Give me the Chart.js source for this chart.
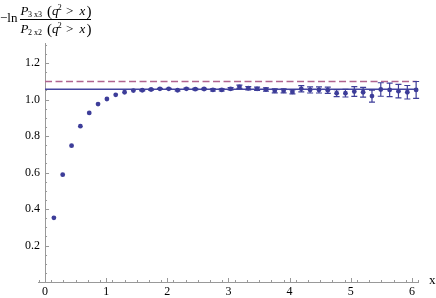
<!DOCTYPE html>
<html>
<head>
<meta charset="utf-8">
<script src="https://cdn.jsdelivr.net/npm/chart.js@4.4.0/dist/chart.umd.min.js"></script>
<style>
  body { margin: 0; background: #fff; }
  #c { display: block; }
</style>
</head>
<body>
<canvas id="c" width="436" height="298"></canvas>
<script>
// dữ liệu
const xValues = [0.145, 0.289, 0.434, 0.578, 0.723, 0.867, 1.012, 1.156, 1.301, 1.445,
                 1.590, 1.734, 1.879, 2.023, 2.168, 2.312, 2.457, 2.601, 2.746, 2.890,
                 3.035, 3.179, 3.324, 3.468, 3.613, 3.757, 3.902, 4.046, 4.191, 4.335,
                 4.480, 4.624, 4.769, 4.913, 5.058, 5.202, 5.347, 5.491, 5.636, 5.780,
                 5.925, 6.069];
const yValues = [0.352, 0.588, 0.747, 0.854, 0.927, 0.975, 1.003, 1.026, 1.040, 1.049,
                 1.051, 1.055, 1.059, 1.059, 1.051, 1.059, 1.057, 1.058, 1.053, 1.053,
                 1.059, 1.070, 1.062, 1.059, 1.055, 1.048, 1.048, 1.042, 1.059, 1.053,
                 1.053, 1.051, 1.035, 1.035, 1.044, 1.040, 1.019, 1.055, 1.053, 1.046,
                 1.040, 1.053];
const yErrors = [0, 0, 0, 0, 0, 0, 0, 0, 0, 0,
                 0.003, 0.003, 0.003, 0.003, 0.004, 0.004, 0.004, 0.004, 0.006, 0.006,
                 0.006, 0.009, 0.009, 0.009, 0.009, 0.011, 0.011, 0.011, 0.017, 0.017,
                 0.017, 0.017, 0.019, 0.021, 0.027, 0.027, 0.033, 0.037, 0.037, 0.037,
                 0.037, 0.046];
const fitLevel = 1.056;     // đường liền
const refLevel = 1.0986;    // đường nét đứt (ln 3)
const lineRange = [0, 6.08];
const xTicks = [0, 1, 2, 3, 4, 5, 6];
const yTicks = [0.2, 0.4, 0.6, 0.8, 1.0, 1.2];
const xRange = [-0.115, 6.116];
const yRange = [0, 1.31];

const blue = '#3d3d99';
const serif = '"Liberation Serif", "DejaVu Serif", serif';

// trục kiểu Mathematica
const axesPlugin = {
  id: 'axes',
  beforeDatasetsDraw(chart) {
    const ctx = chart.ctx;
    const xs = chart.scales.x, ys = chart.scales.y;
    const x0 = xs.getPixelForValue(0), y0 = ys.getPixelForValue(0);
    ctx.save();
    ctx.strokeStyle = '#999';
    ctx.lineWidth = 1;
    ctx.beginPath();
    ctx.moveTo(xs.left, Math.round(y0) + 0.5); ctx.lineTo(xs.right, Math.round(y0) + 0.5);
    ctx.moveTo(Math.round(x0) + 0.5, y0); ctx.lineTo(Math.round(x0) + 0.5, ys.top);
    // vạch chia phụ
    for (let v = -0.1; v <= 6.11; v += 0.2) {
      const p = Math.round(xs.getPixelForValue(v)) + 0.5;
      ctx.moveTo(p, y0); ctx.lineTo(p, y0 - 2);
    }
    for (let v = 0.05; v <= 1.31; v += 0.05) {
      const p = Math.round(ys.getPixelForValue(v)) + 0.5;
      ctx.moveTo(x0, p); ctx.lineTo(x0 + 2, p);
    }
    xTicks.forEach(v => {
      const p = Math.round(xs.getPixelForValue(v)) + 0.5;
      ctx.moveTo(p, y0); ctx.lineTo(p, y0 - 4);
    });
    yTicks.forEach(v => {
      const p = Math.round(ys.getPixelForValue(v)) + 0.5;
      ctx.moveTo(x0, p); ctx.lineTo(x0 + 4, p);
    });
    ctx.stroke();

    ctx.fillStyle = '#000';
    ctx.font = '12px ' + serif;
    ctx.textBaseline = 'middle';
    ctx.textAlign = 'center';
    xTicks.forEach(v => ctx.fillText(String(v), xs.getPixelForValue(v), y0 + 10));
    ctx.textAlign = 'right';
    yTicks.forEach(v => ctx.fillText(v.toFixed(1), x0 - 5, ys.getPixelForValue(v)));
    ctx.textAlign = 'left';
    ctx.font = '13px ' + serif;
    ctx.fillText('x', xs.right + 10, y0 - 1);
    ctx.restore();
  },
  // thanh sai số
  afterDatasetsDraw(chart) {
    const ctx = chart.ctx;
    const xs = chart.scales.x, ys = chart.scales.y;
    ctx.save();
    ctx.strokeStyle = blue;
    ctx.lineWidth = 1.2;
    ctx.beginPath();
    xValues.forEach((xv, i) => {
      const e = yErrors[i];
      if (!e) return;
      const px = xs.getPixelForValue(xv);
      const top = ys.getPixelForValue(yValues[i] + e);
      const bot = ys.getPixelForValue(yValues[i] - e);
      ctx.moveTo(px, top); ctx.lineTo(px, bot);
      ctx.moveTo(px - 3, top); ctx.lineTo(px + 3, top);
      ctx.moveTo(px - 3, bot); ctx.lineTo(px + 3, bot);
    });
    ctx.stroke();
    ctx.restore();
  },
  // nhãn trục tung dạng phân số
  afterDraw(chart) {
    const ctx = chart.ctx;
    ctx.save();
    ctx.fillStyle = '#000';
    ctx.textBaseline = 'alphabetic';
    ctx.textAlign = 'left';
    const big = '13px ' + serif, bigI = 'italic 13px ' + serif, paren = '15px ' + serif;
    const small = '8px ' + serif, sup = '8.5px ' + serif;
    ctx.font = big;
    ctx.fillText('\u2212ln', 0, 22);
    const part = (sub, base) => {
      ctx.font = bigI; ctx.fillText('P', 20.5, base);
      ctx.font = small; ctx.fillText(sub, 28, base + 1.5);
      ctx.font = paren; ctx.fillText('(', 47, base + 0.5);
      ctx.font = bigI; ctx.fillText('q', 52, base);
      ctx.font = sup; ctx.fillText('2', 57.5, base - 5.5);
      ctx.font = big; ctx.fillText('>', 66, base);
      ctx.font = bigI; ctx.fillText('x', 79.5, base);
      ctx.font = paren; ctx.fillText(')', 86.5, base + 0.5);
    };
    part('3 x3', 15);
    part('2 x2', 33);
    ctx.fillRect(20, 19, 71, 1);
    ctx.restore();
  }
};

const points = xValues.map((x, i) => ({ x: x, y: yValues[i] }));

new Chart(document.getElementById('c'), {
  type: 'scatter',
  data: {
    datasets: [
      {
        data: points,
        backgroundColor: blue,
        borderColor: blue,
        borderWidth: 0,
        pointRadius: 2.4
      },
      {
        type: 'line',
        data: [{ x: lineRange[0], y: fitLevel }, { x: lineRange[1], y: fitLevel }],
        borderColor: '#4545a0',
        borderWidth: 1.5,
        pointRadius: 0
      },
      {
        type: 'line',
        data: [{ x: lineRange[0], y: refLevel }, { x: lineRange[1], y: refLevel }],
        borderColor: '#b0648f',
        borderWidth: 1.5,
        borderDash: [7, 3.5],
        pointRadius: 0
      }
    ]
  },
  options: {
    responsive: false,
    animation: false,
    layout: { padding: { left: 38, right: 17, top: 43, bottom: 16 } },
    plugins: { legend: { display: false }, tooltip: { enabled: false } },
    scales: {
      x: { type: 'linear', min: xRange[0], max: xRange[1], display: false },
      y: { type: 'linear', min: yRange[0], max: yRange[1], display: false }
    }
  },
  plugins: [axesPlugin]
});
</script>
</body>
</html>
